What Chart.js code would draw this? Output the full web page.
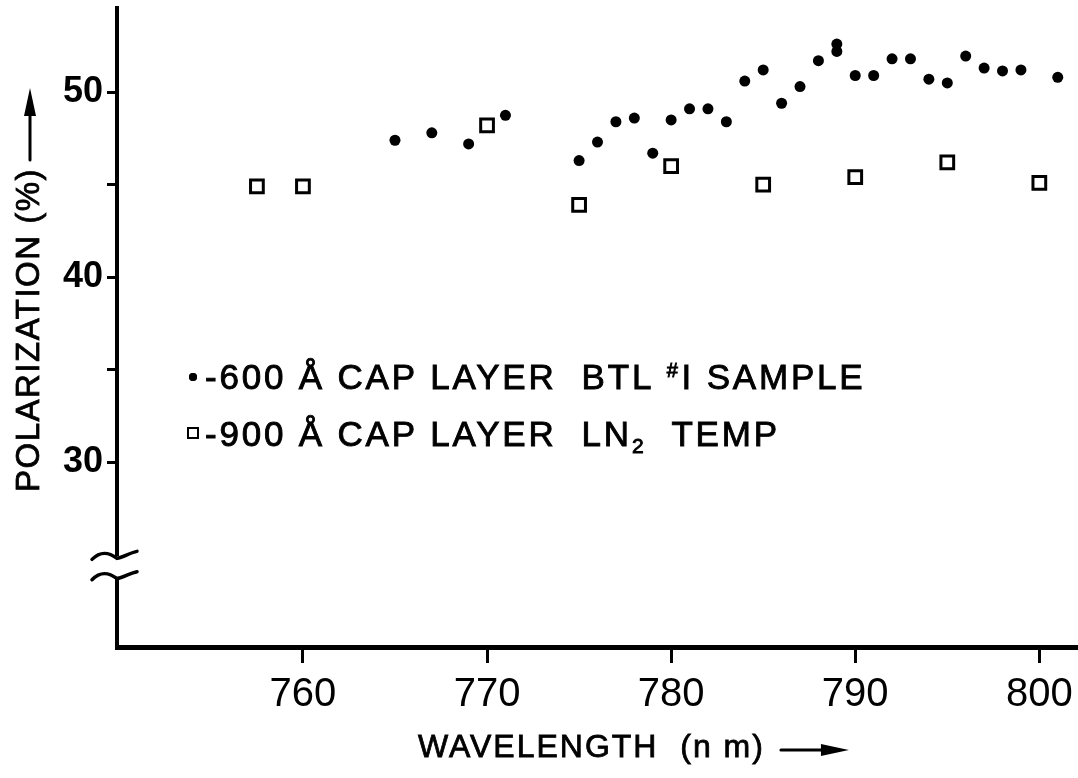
<!DOCTYPE html>
<html>
<head>
<meta charset="utf-8">
<script src="https://cdn.jsdelivr.net/npm/chart.js@4.4.0/dist/chart.umd.min.js"></script>
<style>
  html, body { margin: 0; padding: 0; background: #fff; }
  #wrap { width: 1078px; height: 778px; }
</style>
</head>
<body>
<div id="wrap"><canvas id="canvas" width="1078" height="778"></canvas></div>
<script>
// 600 A cap layer, BTL #1 sample (filled dots)
var dotWave = [765, 767, 769, 771, 775, 776, 777, 778, 779, 780, 781, 782, 783, 784, 785, 786, 787, 788, 789, 789, 790, 791, 792, 793, 794, 795, 796, 797, 798, 799, 801];
var dotPol  = [47.4, 47.8, 47.2, 48.75, 46.3, 47.3, 48.4, 48.6, 46.7, 48.5, 49.1, 49.1, 48.4, 50.6, 51.2, 49.4, 50.3, 51.7, 52.6, 52.2, 50.9, 50.9, 51.8, 51.8, 50.7, 50.5, 51.95, 51.3, 51.15, 51.2, 50.8];
// 900 A cap layer, LN2 temp (open squares)
var sqWave = [757.5, 760, 770, 775, 780, 785, 790, 795, 800];
var sqPol  = [44.9, 44.9, 48.2, 43.9, 46.0, 45.0, 45.4, 46.2, 45.1];

var xTicks = [760, 770, 780, 790, 800];
var yTicks = [30, 35, 40, 45, 50];
var yTickLabels = ['30', '', '40', '', '50'];

function pts(xs, ys) {
  return xs.map(function (x, i) { return { x: x, y: ys[i] }; });
}

var FONT = '"Liberation Sans", Arial, sans-serif';

// text with a light outline so it looks like the heavier hand lettering
function inkText(ctx, txt, x, y) {
  ctx.fillText(txt, x, y);
  ctx.strokeText(txt, x, y);
}

var decor = {
  id: 'decor',
  afterDraw: function (chart) {
    var ctx = chart.ctx;
    var ys = chart.scales.y;
    var ax = chart.chartArea.left;
    ctx.save();
    ctx.fillStyle = '#000';
    ctx.strokeStyle = '#000';

    // axis break on y
    var yb1 = ys.getPixelForValue(24.9), yb2 = ys.getPixelForValue(23.8);
    ctx.fillStyle = '#fff';
    ctx.fillRect(ax - 5, yb1, 10, yb2 - yb1);
    ctx.fillStyle = '#000';
    ctx.lineWidth = 3.5;
    ctx.lineCap = 'round';
    [yb1, yb2].forEach(function (yy) {
      ctx.beginPath();
      ctx.moveTo(ax - 25, yy + 3);
      ctx.bezierCurveTo(ax - 16, yy - 6, ax - 8, yy - 4, ax, yy + 2);
      ctx.bezierCurveTo(ax + 6, yy + 1, ax + 14, yy - 4, ax + 20, yy - 5);
      ctx.stroke();
    });

    // y title
    ctx.save();
    ctx.translate(30, 492);
    ctx.rotate(-Math.PI / 2);
    ctx.font = '33px ' + FONT;
    ctx.letterSpacing = '1.5px';
    ctx.textBaseline = 'middle';
    ctx.textAlign = 'left';
    ctx.lineWidth = 0.8;
    inkText(ctx, 'POLARIZATION (%)', 0, 0);
    var tw = ctx.measureText('POLARIZATION (%)').width;
    ctx.lineWidth = 3;
    ctx.beginPath();
    ctx.moveTo(tw + 8, 0);
    ctx.lineTo(tw + 60, 0);
    ctx.stroke();
    ctx.beginPath();
    ctx.moveTo(tw + 80, 0);
    ctx.lineTo(tw + 52, -6);
    ctx.lineTo(tw + 52, 6);
    ctx.closePath();
    ctx.fill();
    ctx.restore();

    // x title
    ctx.font = '32px ' + FONT;
    ctx.letterSpacing = '2px';
    ctx.textBaseline = 'middle';
    ctx.textAlign = 'left';
    ctx.lineWidth = 0.8;
    var xt = 'WAVELENGTH  (n m)';
    inkText(ctx, xt, 418, 748);
    var xw = ctx.measureText(xt).width;
    var ax0 = 418 + xw + 16;
    ctx.lineWidth = 3;
    ctx.beginPath();
    ctx.moveTo(ax0, 750);
    ctx.lineTo(ax0 + 50, 750);
    ctx.stroke();
    ctx.beginPath();
    ctx.moveTo(ax0 + 68, 750);
    ctx.lineTo(ax0 + 40, 744);
    ctx.lineTo(ax0 + 40, 756);
    ctx.closePath();
    ctx.fill();

    // legend
    ctx.letterSpacing = '2.8px';
    ctx.textBaseline = 'alphabetic';
    ctx.lineWidth = 0.9;
    var lx = 205, b1 = 389, b2 = 446;
    Chart.helpers.drawPoint(ctx, { pointStyle: 'circle', radius: 4, borderWidth: 0 }, 193, b1 - 12);
    ctx.fill();
    function seg(txt, x, y, font) {
      ctx.font = font;
      inkText(ctx, txt, x, y);
      return x + ctx.measureText(txt).width;
    }
    var x1 = lx;
    x1 = seg('-600 \u00C5 CAP LAYER  BTL ', x1, b1, '35px ' + FONT);
    x1 = seg('#', x1, b1 - 12, '20px ' + FONT);
    x1 = seg('I SAMPLE', x1 + 1, b1, '35px ' + FONT);

    ctx.lineWidth = 2;
    ctx.strokeRect(188, b2 - 18, 10, 10);
    ctx.lineWidth = 0.9;
    var x2 = lx;
    x2 = seg('-900 \u00C5 CAP LAYER  LN', x2, b2, '35px ' + FONT);
    x2 = seg('2', x2, b2 + 7, '21px ' + FONT);
    x2 = seg('  TEMP', x2, b2, '35px ' + FONT);

    ctx.restore();
  }
};

var ctx = document.getElementById('canvas').getContext('2d');
window.myScatter = new Chart(ctx, {
  type: 'scatter',
  data: {
    datasets: [
      {
        label: '600 A cap layer BTL #1 sample',
        data: pts(dotWave, dotPol),
        pointStyle: 'circle',
        pointRadius: 5.5,
        pointHoverRadius: 5.5,
        backgroundColor: '#000',
        borderColor: '#000',
        borderWidth: 0
      },
      {
        label: '900 A cap layer LN2 temp',
        data: pts(sqWave, sqPol),
        pointStyle: 'rect',
        pointRadius: 9,
        pointHoverRadius: 9,
        backgroundColor: '#fff',
        borderColor: '#000',
        borderWidth: 3
      }
    ]
  },
  options: {
    responsive: false,
    animation: false,
    devicePixelRatio: 1,
    layout: { autoPadding: false, padding: { top: 8, left: 0, right: 0, bottom: 0 } },
    plugins: { legend: { display: false }, tooltip: { enabled: false } },
    scales: {
      x: {
        type: 'linear',
        min: 749.9,
        max: 802.1,
        afterBuildTicks: function (s) { s.ticks = xTicks.map(function (v) { return { value: v }; }); },
        afterFit: function (s) { s.height = 131; s.paddingLeft = 0; s.paddingRight = 0; },
        grid: { drawOnChartArea: false, drawTicks: true, tickLength: 16, tickWidth: 3, tickColor: '#000' },
        border: { display: true, color: '#000', width: 5 },
        ticks: { color: '#000', font: { family: FONT, size: 40 }, padding: 8, maxRotation: 0, autoSkip: false }
      },
      y: {
        type: 'linear',
        min: 20,
        max: 54.55,
        afterBuildTicks: function (s) { s.ticks = yTicks.map(function (v) { return { value: v }; }); },
        afterFit: function (s) { s.width = 117; s.paddingTop = 0; s.paddingBottom = 0; },
        grid: { drawOnChartArea: false, drawTicks: true, tickLength: 10, tickWidth: 3, tickColor: '#000' },
        border: { display: true, color: '#000', width: 4 },
        ticks: {
          color: '#000',
          font: { family: FONT, size: 36, weight: 'bold' },
          padding: 4,
          autoSkip: false,
          callback: function (v) { var i = yTicks.indexOf(v); return i < 0 ? '' : yTickLabels[i]; }
        }
      }
    }
  },
  plugins: [decor]
});
</script>
</body>
</html>
